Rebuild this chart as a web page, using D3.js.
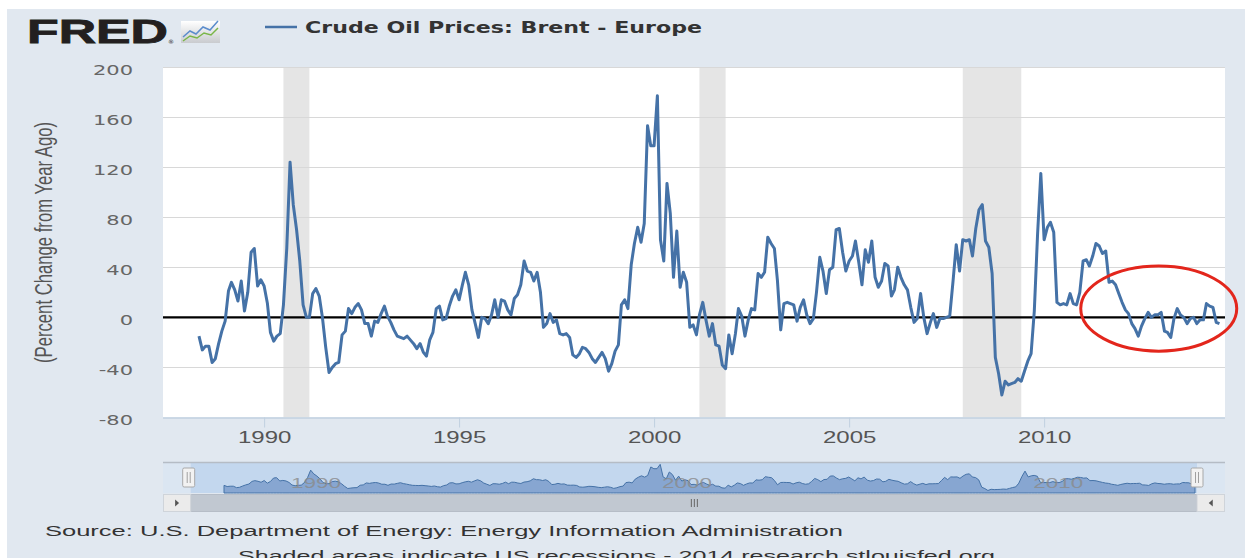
<!DOCTYPE html>
<html>
<head>
<meta charset="utf-8">
<script src="https://cdn.jsdelivr.net/npm/d3@7"></script>
<style>
  body { margin: 0; background: #fff; }
  svg { display: block; }
</style>
</head>
<body>
<div id="chart"></div>
<script>
const width = 1255;
const height = 558;

const seriesName = "Crude Oil Prices: Brent - Europe";
const yTitle = "(Percent Change from Year Ago)";
const sourceNote = "Source: U.S. Department of Energy: Energy Information Administration";
const shadeNote = "Shaded areas indicate US recessions - 2014 research.stlouisfed.org";

// monthly values, first one is May 1988
const firstMonth = "1988-05";
const pctChange = [
    -15, -26, -23, -23, -36, -33, -21, -11,                 // 1988
    -3, 21, 28, 22, 13, 29, 5, 20, 52, 55, 25, 30,          // 1989
    25, 11, -12, -19, -15, -13, 10, 55, 124, 90, 70, 45,    // 1990
    10, 0, 0, 19, 23, 17, 0, -24, -44, -40, -37, -36,       // 1991
    -14, -11, 7, 3, 8, 11, 6, -5, -5, -15, -3, -4,          // 1992
    3, 9, 1, -4, -10, -15, -16, -17, -15, -18, -21, -25,    // 1993
    -21, -28, -31, -18, -12, 7, 9, -2, -1, 9, 17, 22,       // 1994
    14, 26, 36, 26, 6, -5, -16, 0, -1, -5, 2, 14,           // 1995
    0, 14, 13, 6, 2, 15, 18, 26, 45, 37, 36, 29,            // 1996
    36, 20, -8, -5, 3, -4, -2, -13, -14, -13, -16, -30,     // 1997
    -32, -29, -24, -25, -28, -33, -36, -32, -28, -33, -43, -37, // 1998
    -27, -22, 10, 14, 7, 42, 59, 72, 60, 75, 153, 137,      // 1999
    137, 177, 62, 45, 107, 83, 32, 69, 24, 36, 28, -8,      // 2000
    -6, -14, 2, 12, -2, -15, -5, -22, -23, -38, -41, -14,   // 2001
    -29, -13, 7, 1, -15, -2, 7, 6, 35, 32, 36, 64,          // 2002
    59, 55, 30, -10, 11, 12, 11, 10, -3, 8, 14, 2,          // 2003
    -5, -1, 20, 48, 37, 19, 38, 40, 70, 71, 52, 37,         // 2004
    45, 49, 61, 44, 26, 54, 44, 61, 32, 24, 29, 43,         // 2005
    41, 17, 22, 40, 32, 26, 22, 8, -4, -1, 19, 0,           // 2006
    -13, -4, 3, -8, -1, -1, 0, 1, 29, 58, 37, 62,           // 2007
    61, 62, 49, 71, 86, 90, 61, 56, 35, -32, -45, -62,      // 2008
    -51, -54, -53, -52, -49, -51, -43, -35, -29, 5, 67, 115, // 2009
    62, 72, 76, 68, 12, 10, 11, 10, 19, 11, 10, 20,         // 2010
    45, 46, 41, 49, 59, 57, 51, 53, 28, 29, 26, 19,         // 2011
    12, 6, 3, -5, -9, -15, -7, -1, 4, 0, 2, 2,              // 2012
    4, -11, -12, -16, -1, 7, 2, 0, -5, -1, 0, -5,           // 2013
    -2, -2, 11, 9, 8, -4, -5                                // 2014
];

const recessions = [
    ["1990-07-01", "1991-03-01"],
    ["2001-03-01", "2001-11-01"],
    ["2007-12-01", "2009-06-01"]
];

const yTicks = [-80, -40, 0, 40, 80, 120, 160, 200];
const xTickYears = [1990, 1995, 2000, 2005, 2010];
const navTickYears = [1990, 2000, 2010];

// red circle drawn on the picture around the recent values
const highlight = { from: "2010-12-10", to: "2014-12-10", high: 41, low: -27 };

const parseMonth = d3.timeParse("%Y-%m");
const parseDay = d3.timeParse("%Y-%m-%d");
const start = parseMonth(firstMonth);
const data = pctChange.map((v, i) => ({ date: d3.timeMonth.offset(start, i), value: v }));

const lineColor = "#4572a7";
const sx = 1.5; // the picture is stretched sideways

const svg = d3.select("#chart")
    .append("svg")
    .attr("width", width)
    .attr("height", height);

const defs = svg.append("defs");
const grad = defs.append("linearGradient").attr("id", "iconGrad")
    .attr("x1", 0).attr("y1", 0).attr("x2", 0).attr("y2", 1);
grad.append("stop").attr("offset", "0%").attr("stop-color", "#ffffff");
grad.append("stop").attr("offset", "100%").attr("stop-color", "#c9cbcf");

// page background
svg.append("rect")
    .attr("x", 7).attr("y", 9)
    .attr("width", 1238).attr("height", height - 9)
    .attr("fill", "#e1e8f0");

// ---- header: logo + legend
svg.append("text")
    .attr("x", 27).attr("y", 42.5)
    .attr("textLength", 141).attr("lengthAdjust", "spacingAndGlyphs")
    .attr("font-family", "Liberation Sans, Arial, sans-serif")
    .attr("font-weight", "bold")
    .attr("font-size", 33)
    .attr("fill", "#231f20")
    .attr("stroke", "#231f20").attr("stroke-width", 0.8)
    .text("FRED");
svg.append("text")
    .attr("x", 168).attr("y", 44)
    .attr("font-family", "DejaVu Sans, sans-serif")
    .attr("font-size", 6).attr("fill", "#231f20")
    .text("®");

const icon = svg.append("g");
icon.append("rect")
    .attr("x", 181).attr("y", 21).attr("width", 39).attr("height", 22)
    .attr("fill", "url(#iconGrad)");
icon.append("polyline")
    .attr("points", "183,37 190,31 196,34 203,27 210,30 218,21")
    .attr("fill", "none").attr("stroke", "#5b8ccc").attr("stroke-width", 1.5);
icon.append("polyline")
    .attr("points", "183,41 190,36 197,38 204,33 211,35 218,28")
    .attr("fill", "none").attr("stroke", "#7ab648").attr("stroke-width", 1.5);

svg.append("line")
    .attr("x1", 265).attr("x2", 297).attr("y1", 27).attr("y2", 27)
    .attr("stroke", lineColor).attr("stroke-width", 2.5);
svg.append("text")
    .attr("x", 305).attr("y", 32.5)
    .attr("textLength", 397).attr("lengthAdjust", "spacingAndGlyphs")
    .attr("font-family", "DejaVu Sans, Verdana, sans-serif")
    .attr("font-weight", "bold")
    .attr("font-size", 16)
    .attr("fill", "#333")
    .text(seriesName);

// ---- main plot
const plot = { left: 163, right: 1225, top: 67, bottom: 417.5 };

const x = d3.scaleTime()
    .domain([new Date(1987, 4, 30), new Date(2014, 7, 22)])
    .range([plot.left, plot.right]);

const y = d3.scaleLinear()
    .domain([-80, 200])
    .range([plot.bottom, plot.top]);

svg.append("rect")
    .attr("x", plot.left).attr("y", plot.top)
    .attr("width", plot.right - plot.left).attr("height", plot.bottom - plot.top)
    .attr("fill", "#fff");

svg.append("g")
    .selectAll("rect")
    .data(recessions)
    .join("rect")
    .attr("x", d => x(parseDay(d[0])))
    .attr("width", d => x(parseDay(d[1])) - x(parseDay(d[0])))
    .attr("y", plot.top)
    .attr("height", plot.bottom - plot.top)
    .attr("fill", "#e5e5e5");

svg.append("g")
    .selectAll("line")
    .data(yTicks.filter(t => t > -80 && t !== 0))
    .join("line")
    .attr("x1", plot.left).attr("x2", plot.right)
    .attr("y1", d => Math.round(y(d)) + 0.5).attr("y2", d => Math.round(y(d)) + 0.5)
    .attr("stroke", "#d8d8d8");

// y axis labels
const yAxis = svg.append("g")
    .attr("transform", `translate(${plot.left},0)`)
    .call(d3.axisLeft(y).tickValues(yTicks).tickFormat(d => String(d)).tickSize(0).tickPadding(20));
yAxis.select(".domain").remove();
yAxis.selectAll("text")
    .attr("x", -20)
    .attr("dy", "0.5em")
    .attr("transform", `scale(${sx},1)`)
    .attr("font-family", "DejaVu Sans, Verdana, sans-serif")
    .attr("font-size", 14)
    .attr("fill", "#666");

svg.append("text")
    .attr("transform", `translate(44,242.5) scale(${sx},1) rotate(-90)`)
    .attr("text-anchor", "middle")
    .attr("dy", "0.35em")
    .attr("textLength", 241).attr("lengthAdjust", "spacingAndGlyphs")
    .attr("font-family", "Liberation Sans, Arial, sans-serif")
    .attr("font-size", 16)
    .attr("fill", "#555")
    .text(yTitle);

// x axis
const xAxis = svg.append("g")
    .attr("transform", `translate(0,${plot.bottom})`)
    .call(d3.axisBottom(x)
        .tickValues(xTickYears.map(yr => new Date(yr, 0, 1)))
        .tickFormat(d3.timeFormat("%Y"))
        .tickSize(10)
        .tickPadding(4.5));
xAxis.select(".domain")
    .attr("d", `M${plot.left},0.5H${plot.right}`)
    .attr("stroke", "#c0d0e0").attr("stroke-width", 1.5);
xAxis.selectAll(".tick line").attr("stroke", "#c0d0e0");
xAxis.selectAll("text")
    .attr("transform", `scale(${sx},1)`)
    .attr("font-family", "Liberation Sans, Arial, sans-serif")
    .attr("font-size", 16)
    .attr("fill", "#555");

// zero line
svg.append("line")
    .attr("x1", plot.left).attr("x2", plot.right)
    .attr("y1", y(0)).attr("y2", y(0))
    .attr("stroke", "#000").attr("stroke-width", 2.2);

const line = d3.line()
    .x(d => x(d.date))
    .y(d => y(d.value));

svg.append("path")
    .datum(data)
    .attr("d", line)
    .attr("fill", "none")
    .attr("stroke", lineColor)
    .attr("stroke-width", 3)
    .attr("stroke-linejoin", "round");

// ---- navigator
const nav = { left: 163, right: 1225, top: 462, bottom: 493, selA: 190.7, selB: 1197 };

const x2 = d3.scaleTime()
    .domain(d3.extent(data, d => d.date))
    .range([224, 1195]);
const y2 = d3.scaleLinear()
    .domain([-85, 180])
    .range([nav.bottom, nav.top + 2]);

svg.append("rect")
    .attr("x", nav.left).attr("y", nav.top)
    .attr("width", nav.right - nav.left).attr("height", nav.bottom - nav.top)
    .attr("fill", "#dbe6f2");
svg.append("rect")
    .attr("x", nav.selA).attr("y", nav.top)
    .attr("width", nav.selB - nav.selA).attr("height", nav.bottom - nav.top)
    .attr("fill", "#c3d7ee");

const area = d3.area()
    .x(d => x2(d.date))
    .y0(nav.bottom)
    .y1(d => y2(d.value));

svg.append("path")
    .datum(data)
    .attr("d", area)
    .attr("fill", "#7d9ecb")
    .attr("fill-opacity", 0.85)
    .attr("stroke", lineColor)
    .attr("stroke-width", 1);

svg.append("g")
    .selectAll("text")
    .data(navTickYears)
    .join("text")
    .attr("transform", yr => `translate(${x2(new Date(yr, 0, 1)) + 5},488) scale(${sx},1)`)
    .attr("font-family", "Liberation Sans, Arial, sans-serif")
    .attr("font-size", 15)
    .attr("fill", "#8a8a8a")
    .attr("fill-opacity", 0.8)
    .text(yr => yr);

svg.append("line")
    .attr("x1", nav.left).attr("x2", nav.right)
    .attr("y1", nav.top + 0.5).attr("y2", nav.top + 0.5)
    .attr("stroke", "#b5bcc5").attr("stroke-width", 1.5);

// handles
[nav.selA - 2, nav.selB].forEach(cx => {
    const g = svg.append("g").attr("transform", `translate(${cx},0)`);
    g.append("rect")
        .attr("x", -6).attr("y", 468).attr("width", 12).attr("height", 19)
        .attr("rx", 1.5)
        .attr("fill", "#f2f2f2").attr("stroke", "#a8a8a8");
    [-1.5, 1.5].forEach(dx => g.append("line")
        .attr("x1", dx).attr("x2", dx).attr("y1", 472).attr("y2", 483)
        .attr("stroke", "#a0a0a0"));
});

// scrollbar
svg.append("rect")
    .attr("x", nav.left + 0.5).attr("y", 494.5)
    .attr("width", nav.right - nav.left - 1).attr("height", 17)
    .attr("fill", "#eeeeee").attr("stroke", "#cfd4da");
svg.append("rect")
    .attr("x", nav.selA).attr("y", 494.5)
    .attr("width", nav.selB - nav.selA).attr("height", 17)
    .attr("fill", "#c1c8d1").attr("stroke", "#b6bdc7");
const gripX = (nav.selA + nav.selB) / 2;
[-3, 0, 3].forEach(dx => svg.append("line")
    .attr("x1", gripX + dx + 0.5).attr("x2", gripX + dx + 0.5)
    .attr("y1", 499).attr("y2", 507)
    .attr("stroke", "#666"));

[[nav.left + 0.5, nav.selA - nav.left - 0.5, -1], [nav.selB, nav.right - nav.selB - 0.5, 1]].forEach(([bx, bw, dir]) => {
    svg.append("rect")
        .attr("x", bx).attr("y", 494.5).attr("width", bw).attr("height", 17)
        .attr("fill", "#ebebeb").attr("stroke", "#cfd4da");
    const cx = bx + bw / 2;
    svg.append("path")
        .attr("d", `M${cx - 2 * dir},503 L${cx + 2 * dir},499.5 L${cx + 2 * dir},506.5 Z`)
        .attr("fill", "#555");
});

// ---- footer
svg.append("text")
    .attr("x", 45).attr("y", 535.5)
    .attr("textLength", 798).attr("lengthAdjust", "spacingAndGlyphs")
    .attr("font-family", "Liberation Sans, Arial, sans-serif")
    .attr("font-size", 15.5)
    .attr("fill", "#333")
    .text(sourceNote);
// second note sits at the bottom edge, as in the picture
svg.append("text")
    .attr("x", 238).attr("y", 561)
    .attr("textLength", 757).attr("lengthAdjust", "spacingAndGlyphs")
    .attr("font-family", "Liberation Sans, Arial, sans-serif")
    .attr("font-size", 15.5)
    .attr("fill", "#333")
    .text(shadeNote);

// ---- red annotation ellipse
const hx1 = x(parseDay(highlight.from)), hx2 = x(parseDay(highlight.to));
const hy1 = y(highlight.high), hy2 = y(highlight.low);
svg.append("ellipse")
    .attr("cx", (hx1 + hx2) / 2).attr("cy", (hy1 + hy2) / 2)
    .attr("rx", (hx2 - hx1) / 2).attr("ry", (hy2 - hy1) / 2)
    .attr("fill", "none")
    .attr("stroke", "#e3261c")
    .attr("stroke-width", 3);
</script>
</body>
</html>
